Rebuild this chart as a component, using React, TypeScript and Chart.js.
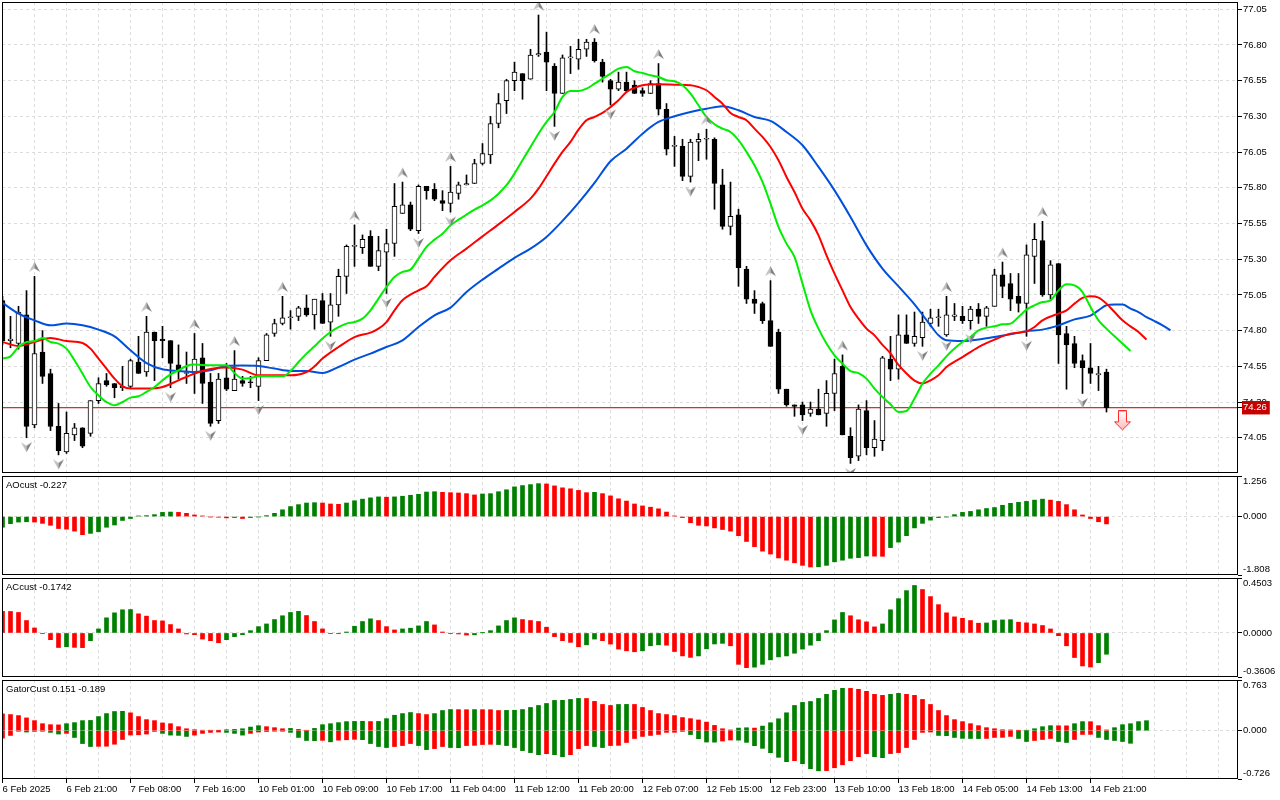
import React, { useEffect, useRef } from 'react';
import { Chart, registerables } from 'chart.js';

Chart.register(...registerables);

// ---------- data ----------
const timeLabels = [
  '6 Feb 2025', '6 Feb 21:00', '7 Feb 08:00', '7 Feb 16:00', '10 Feb 01:00', '10 Feb 09:00',
  '10 Feb 17:00', '11 Feb 04:00', '11 Feb 12:00', '11 Feb 20:00', '12 Feb 07:00', '12 Feb 15:00',
  '12 Feb 23:00', '13 Feb 10:00', '13 Feb 18:00', '14 Feb 05:00', '14 Feb 13:00', '14 Feb 21:00',
];
const BARS_PER_LABEL = 8;
const BARS_PER_GRID = 4;

const opens = [75.01,74.73,74.71,74.91,74.14,74.65,74.50,74.13,73.95,74.07,
74.12,74.08,74.31,74.45,74.43,74.40,74.41,74.58,74.51,74.79,
74.74,74.73,74.56,74.50,74.50,74.61,74.44,74.17,74.47,74.38,
74.45,74.44,74.41,74.59,74.78,74.85,74.89,74.90,74.96,74.91,
75.01,74.86,74.98,75.18,75.39,75.38,75.46,75.25,75.35,75.41,
75.62,75.68,75.50,75.81,75.79,75.71,75.69,75.76,75.82,75.83,
75.97,76.03,76.25,76.41,76.55,76.60,76.56,76.73,76.75,76.65,
76.46,76.71,76.70,76.77,76.82,76.68,76.55,76.49,76.54,76.52,
76.48,76.46,76.53,76.35,76.09,76.09,75.88,76.12,76.14,76.14,
75.82,75.53,75.61,75.23,75.02,74.99,74.87,74.79,74.39,74.28,
74.28,74.22,74.25,74.22,74.36,74.55,74.06,73.92,74.24,73.98,
74.03,74.60,74.53,74.77,74.71,74.75,74.85,74.89,74.77,74.90,
74.90,74.87,74.95,74.90,74.97,75.19,75.13,75.04,74.99,75.32,
75.43,75.05,75.27,74.78,74.71,74.59,74.54,74.49,74.51];

const highs = [75.04,74.90,74.97,75.08,75.18,74.80,74.53,74.29,74.23,74.15,
74.12,74.31,74.47,74.50,74.43,74.55,74.60,74.76,74.90,74.79,
74.83,74.73,74.70,74.65,74.78,74.71,74.50,74.50,74.57,74.66,
74.48,74.48,74.61,74.78,74.88,75.04,74.94,74.97,75.05,75.02,
75.06,75.06,75.23,75.40,75.54,75.47,75.50,75.46,75.51,75.83,
75.84,75.70,75.82,75.81,75.83,75.78,75.95,75.84,75.89,76.00,
76.11,76.30,76.46,76.56,76.68,76.60,76.77,77.01,76.89,76.67,
76.73,76.79,76.84,76.84,76.845,76.70,76.56,76.61,76.61,76.55,
76.50,76.55,76.67,76.39,76.16,76.14,76.14,76.18,76.21,76.15,
75.93,75.84,75.65,75.25,75.08,75.00,75.15,74.81,74.39,74.28,
74.30,74.30,74.39,74.45,74.60,74.63,74.12,74.28,74.31,74.17,
74.62,74.76,74.91,74.91,74.93,74.93,74.95,74.95,75.04,74.99,
74.97,74.97,74.99,74.97,75.23,75.28,75.20,75.20,75.40,75.55,
75.565,75.29,75.27,74.83,74.76,74.63,74.71,74.55,74.53];

const lows = [74.70,74.68,74.67,74.05,74.12,74.43,74.10,73.93,73.94,74.03,
73.98,74.06,74.29,74.41,74.33,74.38,74.40,74.50,74.48,74.45,
74.61,74.40,74.46,74.43,74.36,74.29,74.13,74.15,74.38,74.38,
74.41,74.40,74.31,74.59,74.76,74.84,74.81,74.87,74.90,74.81,
74.85,74.76,74.90,75.06,75.25,75.34,75.25,75.22,75.06,75.32,
75.62,75.50,75.48,75.72,75.71,75.64,75.63,75.72,75.82,75.83,
75.96,75.97,76.22,76.32,76.48,76.42,76.56,76.72,76.48,76.23,
76.46,76.60,76.63,76.72,76.68,76.54,76.38,76.48,76.47,76.46,
76.44,76.46,76.31,76.03,75.95,75.85,75.84,75.99,76.00,75.65,
75.51,75.47,75.11,74.99,74.92,74.85,74.69,74.36,74.27,74.20,
74.17,74.20,74.21,74.13,74.24,74.07,73.87,73.89,73.93,73.92,
73.96,74.45,74.46,74.71,74.69,74.69,74.83,74.83,74.76,74.87,
74.85,74.81,74.85,74.83,74.97,75.03,74.94,74.93,74.76,75.13,
75.04,75.02,74.57,74.39,74.54,74.36,74.43,74.38,74.23];

const closes = [74.73,74.74,74.93,74.13,74.64,74.48,74.13,73.96,74.08,74.12,
73.99,74.31,74.43,74.42,74.40,74.41,74.59,74.50,74.79,74.73,
74.73,74.57,74.52,74.50,74.60,74.43,74.15,74.46,74.39,74.46,
74.43,74.435,74.59,74.77,74.85,74.89,74.89,74.96,74.91,75.02,
74.85,74.98,75.18,75.39,75.39,75.44,75.25,75.36,75.41,75.67,
75.68,75.51,75.81,75.78,75.72,75.69,75.77,75.82,75.83,75.97,
76.04,76.25,76.39,76.55,76.61,76.55,76.73,76.74,76.68,76.46,
76.71,76.71,76.77,76.82,76.69,76.58,76.49,76.54,76.48,76.46,
76.46,76.53,76.35,76.07,76.09,75.88,76.12,76.14,76.14,75.83,
75.53,75.60,75.24,75.02,74.99,74.87,74.69,74.39,74.28,74.27,
74.21,74.25,74.21,74.36,74.50,74.07,73.91,74.25,73.98,74.04,
74.61,74.53,74.77,74.71,74.76,74.86,74.89,74.894,74.91,74.91,
74.87,74.95,74.90,74.96,75.19,75.11,75.02,74.99,75.33,75.44,
75.05,75.26,74.77,74.70,74.57,74.54,74.50,74.50,74.26];

// Alligator lines: [bar index, price]
const jaw: [number, number][] = [[0,74.994],[2,74.919],[4,74.872],[6,74.837],[8,74.849],[10,74.837],[12,74.807],[14,74.76],[16,74.662],[18,74.573],[20,74.529],[22,74.517],[24,74.51],[26,74.522],[28,74.552],[30,74.555],[32,74.552],[34,74.534],[36,74.517],[38,74.517],[40,74.503],[42,74.545],[44,74.597],[46,74.639],[48,74.685],[50,74.732],[52,74.825],[54,74.907],[56,74.961],[58,75.07],[60,75.157],[62,75.234],[64,75.309],[66,75.374],[68,75.456],[70,75.568],[72,75.694],[74,75.834],[76,75.986],[78,76.074],[80,76.179],[82,76.261],[84,76.301],[86,76.331],[88,76.354],[90,76.371],[92,76.343],[94,76.296],[96,76.268],[98,76.191],[100,76.098],[102,75.946],[104,75.782],[106,75.596],[108,75.397],[110,75.234],[112,75.11],[114,74.984],[116,74.837],[117,74.767],[118,74.732],[120,74.727],[122,74.737],[124,74.755],[126,74.774],[128,74.795],[130,74.807],[132,74.837],[134,74.879],[136,74.905],[137,74.942],[138,74.977],[139,74.982],[140,74.982],[141,74.954],[142,74.93],[143,74.895],[144,74.867],[145,74.837],[146,74.802]];

const teeth: [number, number][] = [[0,74.72],[2,74.692],[4,74.72],[6,74.748],[8,74.727],[10,74.713],[11,74.674],[12,74.604],[13,74.534],[14,74.464],[15,74.41],[16,74.394],[18,74.394],[20,74.405],[22,74.452],[24,74.499],[26,74.531],[28,74.541],[30,74.527],[32,74.487],[34,74.487],[36,74.487],[38,74.51],[39,74.55],[40,74.604],[42,74.685],[44,74.755],[46,74.786],[47,74.814],[48,74.86],[49,74.942],[50,75.012],[52,75.082],[53,75.11],[54,75.176],[56,75.292],[58,75.374],[60,75.46],[62,75.544],[64,75.631],[66,75.724],[67,75.794],[68,75.881],[69,75.969],[70,76.051],[71,76.121],[72,76.207],[73,76.273],[74,76.296],[75,76.324],[76,76.366],[77,76.413],[78,76.471],[79,76.5],[80,76.518],[82,76.525],[84,76.522],[86,76.518],[87,76.506],[88,76.483],[89,76.436],[90,76.389],[91,76.324],[92,76.296],[93,76.273],[94,76.214],[95,76.156],[96,76.086],[97,75.993],[98,75.876],[99,75.771],[100,75.654],[101,75.572],[102,75.467],[103,75.327],[104,75.199],[105,75.082],[106,74.965],[107,74.884],[108,74.814],[109,74.767],[110,74.70],[111,74.64],[112,74.56],[113,74.50],[114,74.45],[115,74.43],[116,74.452],[117,74.487],[118,74.545],[120,74.615],[122,74.685],[124,74.737],[126,74.779],[128,74.795],[129,74.825],[130,74.872],[132,74.919],[133,74.942],[134,74.989],[135,75.029],[136,75.04],[137,75.031],[138,74.989],[139,74.93],[140,74.872],[141,74.83],[142,74.79],[143,74.737]];

const lips: [number, number][] = [[0,74.604],[1,74.62],[2,74.685],[3,74.72],[4,74.727],[5,74.748],[6,74.72],[7,74.709],[8,74.674],[9,74.592],[10,74.499],[11,74.405],[12,74.347],[13,74.3],[14,74.277],[15,74.3],[16,74.331],[17,74.34],[18,74.371],[19,74.405],[20,74.452],[21,74.494],[22,74.522],[23,74.552],[24,74.562],[26,74.557],[28,74.557],[29,74.503],[30,74.464],[31,74.468],[32,74.48],[34,74.48],[35,74.48],[36,74.517],[37,74.58],[38,74.639],[39,74.69],[40,74.744],[41,74.79],[42,74.825],[43,74.849],[44,74.86],[45,74.884],[46,74.942],[47,75.024],[48,75.106],[49,75.176],[50,75.211],[51,75.227],[52,75.304],[53,75.386],[54,75.437],[55,75.479],[56,75.537],[57,75.577],[58,75.612],[59,75.647],[60,75.677],[61,75.712],[62,75.759],[63,75.818],[64,75.899],[65,75.993],[66,76.086],[67,76.179],[68,76.261],[69,76.331],[70,76.436],[71,76.478],[72,76.478],[73,76.494],[74,76.529],[75,76.564],[76,76.6],[77,76.634],[78,76.646],[79,76.616],[80,76.604],[81,76.588],[82,76.576],[83,76.553],[84,76.546],[85,76.518],[86,76.459],[87,76.378],[88,76.296],[89,76.245],[90,76.214],[91,76.191],[92,76.133],[93,76.051],[94,75.958],[95,75.841],[96,75.689],[97,75.526],[98,75.409],[99,75.316],[100,75.129],[101,74.942],[102,74.814],[103,74.709],[104,74.627],[105,74.569],[106,74.517],[107,74.503],[108,74.464],[109,74.394],[110,74.335],[111,74.284],[112,74.23],[113,74.237],[114,74.324],[115,74.429],[116,74.499],[117,74.557],[118,74.62],[119,74.674],[120,74.72],[121,74.755],[122,74.802],[123,74.821],[124,74.83],[125,74.844],[126,74.849],[127,74.895],[128,74.947],[129,74.977],[130,75.0],[131,75.012],[132,75.082],[133,75.124],[134,75.117],[135,75.07],[136,74.965],[137,74.872],[138,74.814],[139,74.76],[140,74.709],[141,74.657]];

// Fractal bars (index of bar)
const fractalUp = [4, 18, 24, 29, 35, 44, 50, 56, 67, 74, 82, 88, 96, 105, 118, 125, 130];
const fractalDown = [3, 7, 21, 26, 32, 41, 48, 52, 56, 69, 76, 86, 100, 106, 115, 118, 121, 128, 135];
// Sell signal arrow: [bar index, price]
const sellSignals: [number, number][] = [[140, 74.168]];

const priceTicks = [77.05, 76.80, 76.55, 76.30, 76.05, 75.80, 75.55, 75.30, 75.05, 74.80, 74.55, 74.30, 74.05];
const priceRange = [73.803, 77.101];

const ao = [-0.33,-0.22,-0.17,-0.16,-0.17,-0.21,-0.27,-0.37,-0.39,-0.45,
-0.56,-0.52,-0.47,-0.33,-0.26,-0.12,-0.06,0.02,0.03,0.06,
0.13,0.14,0.13,0.10,0.05,0.02,-0.01,-0.02,-0.04,-0.03,
-0.06,-0.03,-0.01,0.03,0.10,0.21,0.31,0.37,0.42,0.43,
0.42,0.39,0.38,0.42,0.49,0.54,0.58,0.61,0.60,0.61,
0.63,0.66,0.69,0.76,0.77,0.75,0.74,0.73,0.71,0.67,
0.70,0.71,0.77,0.83,0.92,0.96,0.99,1.02,1.01,0.95,
0.89,0.86,0.81,0.74,0.75,0.71,0.64,0.55,0.48,0.39,
0.33,0.29,0.24,0.14,0.02,-0.03,-0.19,-0.27,-0.29,-0.35,
-0.40,-0.45,-0.59,-0.77,-0.93,-1.07,-1.16,-1.28,-1.35,-1.43,
-1.51,-1.56,-1.555,-1.51,-1.40,-1.35,-1.29,-1.27,-1.22,-1.225,
-1.23,-0.96,-0.79,-0.59,-0.35,-0.21,-0.11,-0.03,-0.01,0.06,
0.13,0.16,0.21,0.25,0.28,0.35,0.41,0.44,0.47,0.51,
0.54,0.51,0.47,0.37,0.21,0.05,-0.06,-0.16,-0.227];
const aoRange = [-1.808, 1.256];

const ac = [0.177,0.176,0.168,0.102,0.041,-0.003,-0.055,-0.119,-0.113,-0.118,
-0.12,-0.063,0.033,0.124,0.165,0.19,0.192,0.157,0.138,0.102,
0.099,0.069,0.033,-0.008,-0.014,-0.05,-0.063,-0.08,-0.055,-0.03,
-0.014,0.019,0.052,0.074,0.11,0.141,0.168,0.177,0.143,0.094,
0.033,-0.003,-0.006,0.008,0.055,0.094,0.116,0.102,0.052,0.025,
0.033,0.039,0.058,0.094,0.066,0.008,-0.003,-0.008,-0.017,-0.015,
0.001,0.019,0.058,0.102,0.124,0.11,0.102,0.094,0.047,-0.03,
-0.063,-0.077,-0.113,-0.097,-0.05,-0.063,-0.091,-0.132,-0.146,-0.154,
-0.146,-0.105,-0.097,-0.10,-0.152,-0.188,-0.2,-0.188,-0.13,-0.09,
-0.085,-0.105,-0.257,-0.284,-0.28,-0.257,-0.22,-0.196,-0.188,-0.166,
-0.132,-0.1,-0.063,0.019,0.107,0.168,0.141,0.108,0.091,0.05,
0.074,0.19,0.281,0.347,0.389,0.356,0.298,0.232,0.165,0.132,
0.12,0.102,0.08,0.082,0.102,0.107,0.109,0.088,0.083,0.074,
0.061,0.033,-0.022,-0.105,-0.201,-0.27,-0.279,-0.243,-0.1742];
const acRange = [-0.3606, 0.4503];

const gatorUpper = [0.253,0.243,0.228,0.193,0.152,0.106,0.091,0.088,0.106,0.122,
0.152,0.155,0.213,0.258,0.289,0.292,0.269,0.213,0.167,0.152,
0.117,0.106,0.061,0.03,0.015,0.008,0.005,0.003,0.015,0.02,
0.03,0.055,0.076,0.061,0.046,0.03,0.035,0.02,0.006,0.035,
0.091,0.106,0.122,0.137,0.14,0.142,0.138,0.14,0.182,0.233,
0.258,0.274,0.258,0.243,0.258,0.304,0.319,0.317,0.316,0.318,
0.317,0.316,0.304,0.306,0.308,0.319,0.35,0.38,0.41,0.456,
0.457,0.471,0.486,0.485,0.441,0.395,0.38,0.395,0.396,0.395,
0.35,0.304,0.258,0.243,0.228,0.198,0.182,0.162,0.13,0.08,
0.03,0.012,0.04,0.045,0.04,0.07,0.12,0.18,0.27,0.38,
0.426,0.44,0.486,0.547,0.608,0.638,0.637,0.623,0.593,0.547,
0.532,0.547,0.562,0.547,0.532,0.471,0.395,0.304,0.228,0.167,
0.137,0.106,0.076,0.046,0.03,0.015,0.012,0.004,0.005,0.03,
0.061,0.076,0.075,0.074,0.106,0.137,0.136,0.076,0.012,0.046,
0.091,0.106,0.137,0.151];

const gatorLower = [-0.111,-0.071,-0.008,-0.02,-0.01,-0.008,-0.025,-0.05,-0.04,-0.101,
-0.193,-0.238,-0.235,-0.233,-0.203,-0.132,-0.065,-0.061,-0.05,-0.01,
-0.04,-0.066,-0.07,-0.086,-0.066,-0.04,-0.025,-0.02,-0.025,-0.04,
-0.066,-0.04,-0.02,-0.012,-0.006,-0.003,-0.025,-0.101,-0.147,-0.15,
-0.145,-0.167,-0.142,-0.136,-0.13,-0.135,-0.193,-0.238,-0.253,-0.238,
-0.223,-0.193,-0.223,-0.284,-0.269,-0.238,-0.253,-0.256,-0.223,-0.22,
-0.208,-0.205,-0.208,-0.223,-0.253,-0.299,-0.329,-0.36,-0.345,-0.36,
-0.391,-0.36,-0.269,-0.223,-0.238,-0.253,-0.223,-0.22,-0.177,-0.117,
-0.086,-0.071,-0.056,-0.025,-0.024,-0.01,-0.058,-0.12,-0.17,-0.172,
-0.155,-0.14,-0.142,-0.175,-0.225,-0.265,-0.33,-0.40,-0.465,-0.45,
-0.496,-0.572,-0.603,-0.60,-0.557,-0.512,-0.45,-0.39,-0.344,-0.39,
-0.405,-0.344,-0.329,-0.253,-0.132,-0.025,-0.02,-0.071,-0.075,-0.101,
-0.115,-0.117,-0.118,-0.116,-0.101,-0.1,-0.086,-0.117,-0.162,-0.147,
-0.132,-0.117,-0.162,-0.177,-0.132,-0.056,-0.055,-0.101,-0.132,-0.147,
-0.162,-0.189];
const gatorRange = [-0.726, 0.763];

// ---------- styling ----------
const FONT_FAMILY = '"Liberation Sans", Arial, sans-serif';
const FONT_SIZE = 9.5;
const FONT = { family: FONT_FAMILY, size: FONT_SIZE };
const GRID = '#dcdcdc';
const GREEN = '#008000';
const RED = '#ff0000';
const CLEAR = 'rgba(0,0,0,0)';
const AXIS_W = 42;
const PX_PER_BAR = 8;
const X_MIN = -0.0625;
const X_MAX = X_MIN + (1280 - 2 - AXIS_W) / PX_PER_BAR;

const lastClose = closes[closes.length - 1];

function labelFor(v: number) {
  const k = v / BARS_PER_LABEL;
  return Number.isInteger(k) && k >= 0 && k < timeLabels.length ? timeLabels[k] : '';
}

function trendColors(vals: number[], useAbs = false) {
  return vals.map((_, i) => {
    const j = i === 0 ? 1 : i;
    const a = useAbs ? Math.abs(vals[j]) : vals[j];
    const b = useAbs ? Math.abs(vals[j - 1]) : vals[j - 1];
    return a > b ? GREEN : RED;
  });
}

function xScale(showLabels: boolean) {
  return {
    type: 'linear',
    min: X_MIN,
    max: X_MAX,
    bounds: 'data',
    offset: false,
    afterBuildTicks: (s: any) => {
      const t: any[] = [];
      for (let v = 0; v <= X_MAX; v += BARS_PER_GRID) t.push({ value: v });
      s.ticks = t;
    },
    afterFit: (s: any) => {
      s.height = showLabels ? 21 : 0;
      s.paddingLeft = 0;
      s.paddingRight = 0;
    },
    grid: {
      offset: false,
      color: (c: any) => (c.tick && c.tick.value === 0 ? CLEAR : GRID),
      lineWidth: 1,
      drawTicks: showLabels,
      tickLength: 4,
      tickColor: (c: any) => (c.tick && labelFor(c.tick.value) ? '#000' : CLEAR),
    },
    border: { display: false, dash: [3, 3] },
    ticks: {
      display: showLabels,
      autoSkip: false,
      maxRotation: 0,
      minRotation: 0,
      align: 'start',
      padding: 1,
      font: FONT,
      color: '#000',
      callback: (v: any) => labelFor(Number(v)),
    },
  };
}

function subYScale(range: number[]) {
  const [min, max] = range;
  return {
    type: 'linear',
    position: 'right',
    min,
    max,
    bounds: 'data',
    afterBuildTicks: (s: any) => {
      s.ticks = [{ value: min }, { value: 0 }, { value: max }];
    },
    afterFit: (s: any) => {
      s.width = AXIS_W;
      s.paddingTop = 0;
      s.paddingBottom = 0;
    },
    grid: {
      color: (c: any) => (c.tick && c.tick.value === 0 ? GRID : CLEAR),
      drawTicks: true,
      tickLength: 4,
      tickColor: '#000',
    },
    border: { display: false, dash: [3, 3] },
    ticks: { display: false },
  };
}

const panePlugin = {
  id: 'pane',
  afterDraw(chart: any, _args: any, opts: any) {
    const { ctx, chartArea: a } = chart;
    ctx.save();
    ctx.strokeStyle = '#000';
    ctx.lineWidth = 1;
    ctx.setLineDash([]);
    ctx.strokeRect(a.left + 0.5, a.top + 0.5, a.right - a.left - 1, a.bottom - a.top - 1);
    ctx.fillStyle = '#000';
    ctx.font = `${FONT_SIZE}px ${FONT_FAMILY}`;
    ctx.textBaseline = 'middle';
    ctx.textAlign = 'left';
    if (opts && opts.title) ctx.fillText(opts.title, a.left + 4, a.top + 9);
    if (opts && opts.levels) {
      const s = chart.scales.y;
      for (const lv of opts.levels) {
        const py = s.getPixelForValue(lv.value);
        const dy = lv.value === s.max ? 5 : lv.value === s.min ? -5.5 : 0;
        ctx.fillText(lv.text, a.right + 5, py + dy);
      }
    }
    ctx.restore();
  },
};

function fractalIcon(up: boolean) {
  const c = document.createElement('canvas');
  c.width = 13;
  c.height = 35;
  const g = c.getContext('2d') as CanvasRenderingContext2D;
  const cx = 6.5;
  const tipY = up ? 3 : 32;
  const baseY = up ? 13 : 22;
  const notchY = up ? 9.5 : 25.5;
  g.beginPath();
  g.moveTo(cx, tipY);
  g.lineTo(1, baseY);
  g.lineTo(cx, notchY);
  g.closePath();
  g.fillStyle = '#c0c0c0';
  g.fill();
  g.beginPath();
  g.moveTo(cx, tipY);
  g.lineTo(12, baseY);
  g.lineTo(cx, notchY);
  g.closePath();
  g.fillStyle = '#808080';
  g.fill();
  return c;
}

function sellIcon() {
  const c = document.createElement('canvas');
  c.width = 19;
  c.height = 21;
  const g = c.getContext('2d') as CanvasRenderingContext2D;
  g.beginPath();
  g.moveTo(5.5, 0.5);
  g.lineTo(13.5, 0.5);
  g.lineTo(13.5, 11.5);
  g.lineTo(17.5, 11.5);
  g.lineTo(9.5, 19.5);
  g.lineTo(1.5, 11.5);
  g.lineTo(5.5, 11.5);
  g.closePath();
  const grad = g.createLinearGradient(0, 0, 0, 20);
  grad.addColorStop(0, '#ffffff');
  grad.addColorStop(1, '#ffb8b8');
  g.fillStyle = grad;
  g.fill();
  g.strokeStyle = '#ff2a2a';
  g.lineWidth = 1;
  g.stroke();
  return c;
}

function histChart(canvas: HTMLCanvasElement, datasets: any[], range: number[], decimals: number, title: string, showX: boolean) {
  return new Chart(canvas, {
    type: 'bar',
    data: { datasets },
    plugins: [panePlugin],
    options: {
      animation: false,
      responsive: false,
      devicePixelRatio: 1,
      layout: { autoPadding: false, padding: { top: 2, bottom: showX ? 0 : 1, left: 2, right: 0 } },
      scales: { x: xScale(showX), y: subYScale(range) } as any,
      plugins: {
        legend: { display: false },
        tooltip: { enabled: false },
        pane: {
          title,
          levels: [range[1], 0, range[0]].map((v) => ({ value: v, text: v.toFixed(decimals) })),
        },
      } as any,
    },
  } as any);
}

function histDataset(vals: number[], useAbs = false) {
  return {
    type: 'bar',
    data: vals.map((v, i) => ({ x: i, y: v })),
    backgroundColor: trendColors(vals, useAbs),
    borderWidth: 0,
    barThickness: 4,
    grouped: false,
  };
}

export default function App() {
  const mainRef = useRef<HTMLCanvasElement>(null);
  const aoRef = useRef<HTMLCanvasElement>(null);
  const acRef = useRef<HTMLCanvasElement>(null);
  const gatorRef = useRef<HTMLCanvasElement>(null);

  useEffect(() => {
    const charts: Chart[] = [];
    const upIcon = fractalIcon(true);
    const downIcon = fractalIcon(false);
    const sell = sellIcon();
    const idx = closes.map((_, i) => i);

    charts.push(
      new Chart(mainRef.current as HTMLCanvasElement, {
        type: 'bar',
        data: {
          datasets: [
            {
              type: 'line',
              data: [{ x: X_MIN, y: lastClose }, { x: X_MAX, y: lastClose }],
              borderColor: '#b40000',
              borderWidth: 1,
              pointRadius: 0,
              order: 5,
            },
            {
              type: 'bar',
              data: idx.map((i) => ({ x: i, y: [lows[i], highs[i]] })),
              backgroundColor: '#000',
              borderWidth: 0,
              barThickness: 1,
              grouped: false,
              order: 4,
            },
            {
              type: 'bar',
              data: idx.map((i) => ({ x: i, y: [Math.min(opens[i], closes[i]), Math.max(opens[i], closes[i])] })),
              backgroundColor: idx.map((i) => (closes[i] >= opens[i] ? '#ffffff' : '#000000')),
              borderColor: '#000',
              borderWidth: 1,
              borderSkipped: false,
              barThickness: 5,
              minBarLength: 1,
              grouped: false,
              order: 3,
            },
            {
              type: 'line',
              data: jaw.map(([x, y]) => ({ x, y })),
              borderColor: '#0050dc',
              borderWidth: 2,
              pointRadius: 0,
              cubicInterpolationMode: 'monotone',
              order: 2,
            },
            {
              type: 'line',
              data: teeth.map(([x, y]) => ({ x, y })),
              borderColor: '#ff0000',
              borderWidth: 2,
              pointRadius: 0,
              cubicInterpolationMode: 'monotone',
              order: 1,
            },
            {
              type: 'line',
              data: lips.map(([x, y]) => ({ x, y })),
              borderColor: '#00ee00',
              borderWidth: 2,
              pointRadius: 0,
              cubicInterpolationMode: 'monotone',
              order: 0,
            },
            {
              type: 'scatter',
              data: fractalUp.map((i) => ({ x: i, y: highs[i] })),
              pointStyle: upIcon,
              pointRadius: 6,
              order: -1,
            },
            {
              type: 'scatter',
              data: fractalDown.map((i) => ({ x: i, y: lows[i] })),
              pointStyle: downIcon,
              pointRadius: 6,
              order: -1,
            },
            {
              type: 'scatter',
              data: sellSignals.map(([x, y]) => ({ x, y })),
              pointStyle: sell,
              pointRadius: 8,
              order: -2,
            },
          ] as any,
        },
        plugins: [panePlugin],
        options: {
          animation: false,
          responsive: false,
          devicePixelRatio: 1,
          layout: { autoPadding: false, padding: { top: 2, bottom: 1, left: 2, right: 0 } },
          scales: {
            x: xScale(false),
            y: {
              type: 'linear',
              position: 'right',
              min: priceRange[0],
              max: priceRange[1],
              bounds: 'data',
              afterBuildTicks: (s: any) => {
                s.ticks = [...priceTicks.map((v) => ({ value: v })), { value: lastClose }];
              },
              afterFit: (s: any) => {
                s.width = AXIS_W;
                s.paddingTop = 0;
                s.paddingBottom = 0;
              },
              grid: {
                color: (c: any) => (c.tick && c.tick.value === lastClose ? CLEAR : GRID),
                drawTicks: true,
                tickLength: 4,
                tickColor: '#000',
              },
              border: { display: false, dash: [3, 3] },
              ticks: {
                autoSkip: false,
                padding: 1,
                font: FONT,
                color: (c: any) => (c.tick && c.tick.value === lastClose ? '#ffffff' : '#000000'),
                showLabelBackdrop: (c: any) => !!(c.tick && c.tick.value === lastClose),
                backdropColor: '#c80000',
                backdropPadding: { top: 1, bottom: 1, left: 1, right: 3 },
                callback: (v: any) => Number(v).toFixed(2),
              },
            },
          } as any,
          plugins: {
            legend: { display: false },
            tooltip: { enabled: false },
            pane: {},
          } as any,
        },
      } as any)
    );

    charts.push(
      histChart(aoRef.current as HTMLCanvasElement, [histDataset(ao)], aoRange, 3,
        `AOcust ${ao[ao.length - 1].toFixed(3)}`, false)
    );
    charts.push(
      histChart(acRef.current as HTMLCanvasElement, [histDataset(ac)], acRange, 4,
        `ACcust ${ac[ac.length - 1].toFixed(4)}`, false)
    );
    charts.push(
      histChart(gatorRef.current as HTMLCanvasElement, [histDataset(gatorUpper, true), histDataset(gatorLower, true)], gatorRange, 3,
        `GatorCust ${gatorUpper[gatorUpper.length - 1].toFixed(3)} ${gatorLower[gatorLower.length - 1].toFixed(3)}`, true)
    );

    return () => charts.forEach((c) => c.destroy());
  }, []);

  const abs = (top: number): React.CSSProperties => ({ position: 'absolute', left: 0, top, display: 'block' });

  return (
    <div style={{ position: 'fixed', left: 0, top: 0, width: 1280, height: 800, background: '#fff', overflow: 'hidden' }}>
      <canvas ref={mainRef} width={1280} height={474} style={abs(0)} />
      <canvas ref={aoRef} width={1280} height={102} style={abs(474)} />
      <canvas ref={acRef} width={1280} height={102} style={abs(576)} />
      <canvas ref={gatorRef} width={1280} height={122} style={abs(678)} />
    </div>
  );
}
